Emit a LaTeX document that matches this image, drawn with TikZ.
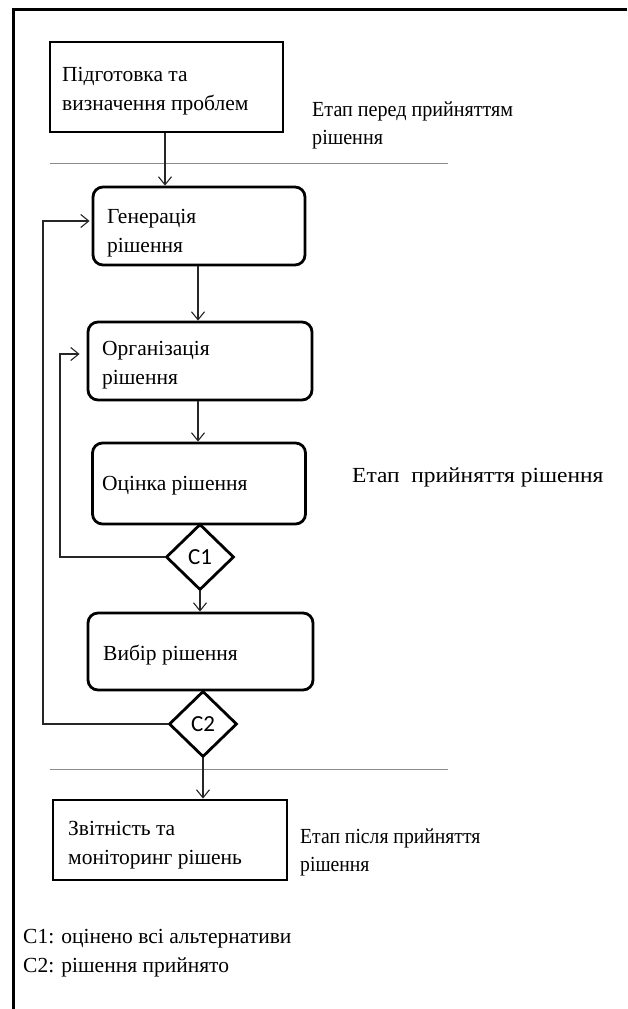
\documentclass[tikz,border=0pt]{standalone}
\usepackage{fontspec}
\setmainfont{Liberation Serif}
\newfontfamily\cfont{Carlito}
\newfontfamily\narrowA[FakeStretch=0.935]{Liberation Serif}
\newfontfamily\narrowB[FakeStretch=0.915]{Liberation Serif}
\newfontfamily\wideA[FakeStretch=1.09]{Liberation Serif}
\usetikzlibrary{arrows.meta,shapes.geometric}
\begin{document}
\begin{tikzpicture}[x=1pt,y=-1pt,
  box/.style={draw=black,line width=2.8pt,inner sep=0pt},
  rbox/.style={box,rounded corners=10pt},
  txt/.style={inner sep=0pt,align=left,font=\fontsize{21.5}{29}\selectfont},
  cond/.style={diamond,draw=black,line width=2.8pt,inner sep=0pt,minimum width=68pt,minimum height=66pt,font=\cfont\fontsize{23}{24}\selectfont},
  conn/.style={draw=black!85,line width=1.1pt},
  arr/.style={conn,-{Straight Barb[length=8pt,width=13pt,line width=1.1pt]}},
  sep/.style={draw=black!45,line width=1pt},
  frame/.style={draw=black,line width=3pt}]
\useasboundingbox (0,0) rectangle (627,1009);
% frame
\coordinate (fa) at (627,9);
\coordinate (fb) at (13,9);
\coordinate (fc) at (13,1009);
\draw[frame] (fa) -- (fb) -- (fc);
% separators
\coordinate (s1a) at (50,163);
\coordinate (s1b) at (448,163);
\coordinate (s2a) at (50,769);
\coordinate (s2b) at (448,769);
\draw[sep] (s1a) -- (s1b);
\draw[sep] (s2a) -- (s2b);
% boxes
\node[box,minimum width=233pt,minimum height=90pt] (b1) at (166.5,87) {};
\node[rbox,minimum width=212pt,minimum height=78pt] (b2) at (199,226) {};
\node[rbox,minimum width=224pt,minimum height=78pt] (b3) at (200,361) {};
\node[rbox,minimum width=213pt,minimum height=81pt] (b4) at (199,483.5) {};
\node[cond] (c1) at (200,557) {C1};
\node[rbox,minimum width=225pt,minimum height=77pt] (b5) at (200.5,651.5) {};
\node[cond] (c2) at (203,724) {C2};
\node[box,minimum width=234pt,minimum height=80pt] (b6) at (170,840) {};
% texts
\node[txt,anchor=west] (t1) at (62,91) {Підготовка та\\визначення проблем};
\node[txt,anchor=west] (t2) at (107,233) {Генерація\\рішення};
\node[txt,anchor=west] (t3) at (102,365) {Організація\\рішення};
\node[txt,anchor=base west] (t4) at (102,490) {Оцінка рішення};
\node[txt,anchor=base west] (t5) at (103,660) {Вибір рішення};
\node[txt,anchor=west] (t6) at (68,845) {Звітність та\\моніторинг рішень};
\node[txt,anchor=west,font=\narrowA\fontsize{21.5}{28}\selectfont] (l1) at (312,125) {Етап перед прийняттям\\рішення};
\node[txt,anchor=base west,font=\wideA\fontsize{21.5}{29}\selectfont] (l2) at (352,482) {Етап\ \ прийняття рішення};
\node[txt,anchor=west,font=\narrowB\fontsize{21.5}{28}\selectfont] (l3) at (300,852) {Етап після прийняття\\рішення};
\node[txt,anchor=west] (lg) at (23,953) {C1: оцінено всі альтернативи\\C2: рішення прийнято};
% connectors
\draw[arr] (b1.south -| 165,0) -- (b2.north -| 165,0);
\draw[arr] (b2.south -| 198,0) -- (b3.north -| 198,0);
\draw[arr] (b3.south -| 198,0) -- (b4.north -| 198,0);
\draw[arr] (c1.south) -- (b5.north -| c1.south);
\draw[arr] (c2.south) -- (b6.north -| c2.south);
\coordinate (k1) at (60,557);
\coordinate (k2) at (60,354);
\draw[arr,shorten >=7pt] (c1.west) -- (k1) -- (k2) -- (b3.west |- k2);
\coordinate (k3) at (43,724);
\coordinate (k4) at (43,221);
\draw[arr,shorten >=2pt] (c2.west) -- (k3) -- (k4) -- (b2.west |- k4);
\end{tikzpicture}
\end{document}
